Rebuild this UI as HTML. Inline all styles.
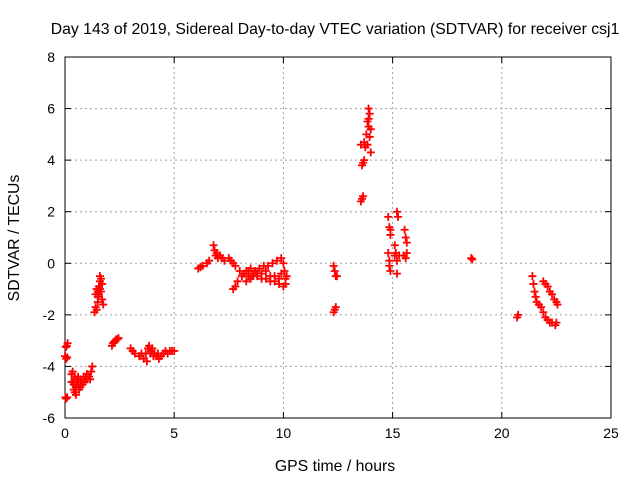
<!DOCTYPE html>
<html><head><meta charset="utf-8"><style>
body{margin:0;background:#fff}
svg text{font-family:"Liberation Sans",sans-serif;font-size:14px;fill:#000}
svg text.big{font-size:15.8px}
</style></head><body>
<svg id="chart" width="640" height="480" xmlns="http://www.w3.org/2000/svg">
<text class="big" x="335" y="34" text-anchor="middle">Day 143 of 2019, Sidereal Day-to-day VTEC variation (SDTVAR) for receiver csj1</text>
<g id="grid"></g>
<g id="axes"></g>
<g id="points"></g>
<text class="big" x="335" y="471" text-anchor="middle">GPS time / hours</text>
<text class="big" transform="translate(19,238) rotate(-90)" text-anchor="middle">SDTVAR / TECUs</text>
</svg>
<script>
const xTicks=[0,5,10,15,20,25];
const yTicks=[-6,-4,-2,0,2,4,6,8];
const hours=[0.02,0.05,0.1,0.0,0.05,0.1,0.08,0.12,0.04,
0.3,0.35,0.4,0.45,0.5,0.55,0.6,0.7,0.8,0.9,1.0,1.1,1.2,1.25,0.35,0.45,0.6,0.7,0.85,1.0,1.15,0.5,0.65,0.4,0.55,0.75,0.95,0.3,
1.35,1.4,1.4,1.45,1.5,1.55,1.6,1.6,1.65,1.7,1.75,1.7,1.5,1.45,1.55,1.65,1.6,1.5,
2.15,2.2,2.3,2.4,2.45,2.25,2.35,
3.0,3.1,3.2,3.4,3.5,3.6,3.7,3.8,3.85,3.9,4.0,4.1,4.2,4.3,4.4,4.5,4.6,4.7,4.8,4.9,5.0,3.75,4.05,3.95,4.25,
6.1,6.3,6.5,6.6,6.2,
6.8,6.85,6.9,7.0,7.1,7.3,7.5,7.6,7.7,7.8,8.0,8.2,8.4,8.6,8.8,9.0,9.2,9.4,9.6,9.8,10.0,10.1,
7.7,7.8,7.9,8.1,8.3,8.5,8.7,8.9,9.1,9.3,9.5,9.7,9.9,10.0,10.05,10.15,9.9,8.5,8.3,
8.4,8.6,8.8,9.0,9.2,9.4,9.6,9.8,10.1,6.95,7.2,
12.3,12.35,12.4,12.45,12.3,12.35,12.4,
13.55,13.6,13.65,13.6,13.65,13.7,13.55,13.7,13.75,13.8,13.85,13.9,13.95,13.9,13.95,14.0,13.85,14.0,13.9,
14.8,14.85,14.9,14.8,14.85,14.9,14.85,15.2,15.25,15.1,15.1,15.2,15.2,15.3,15.55,15.6,15.65,15.5,15.6,15.65,14.9,15.15,
18.6,18.65,20.7,20.75,
21.4,21.45,21.5,21.55,21.6,21.7,21.8,21.9,22.0,22.1,22.2,22.3,22.45,22.5,21.9,22.0,22.1,22.2,22.3,22.4,22.5,22.55];
const sdtvar=[-5.2,-5.25,-5.2,-3.6,-3.7,-3.65,-3.2,-3.1,-3.25,
-4.3,-4.6,-4.9,-5.0,-4.8,-4.5,-4.7,-4.8,-4.7,-4.6,-4.5,-4.4,-4.2,-4.0,-4.2,-4.4,-4.4,-4.5,-4.4,-4.3,-4.5,-5.1,-4.9,-4.7,-4.6,-4.6,-4.4,-4.6,
-1.9,-1.7,-1.2,-1.0,-1.3,-0.9,-0.7,-0.5,-1.1,-1.4,-1.6,-0.8,-1.5,-1.8,-1.2,-0.6,-1.0,-1.1,
-3.2,-3.1,-3.0,-2.95,-2.9,-3.05,-2.95,
-3.3,-3.4,-3.5,-3.6,-3.5,-3.7,-3.5,-3.3,-3.2,-3.5,-3.3,-3.5,-3.6,-3.7,-3.6,-3.5,-3.4,-3.5,-3.4,-3.4,-3.4,-3.8,-3.6,-3.4,-3.5,
-0.2,-0.1,0.0,0.1,-0.15,
0.7,0.5,0.3,0.2,0.3,0.1,0.2,0.1,0.0,-0.1,-0.3,-0.4,-0.3,-0.5,-0.5,-0.6,-0.6,-0.7,-0.7,-0.8,-0.9,-0.6,
-1.0,-0.9,-0.7,-0.5,-0.3,-0.2,-0.3,-0.2,-0.1,-0.1,0.0,0.1,0.2,0.0,-0.3,-0.5,-0.4,-0.6,-0.7,
-0.5,-0.4,-0.4,-0.4,-0.3,-0.5,-0.5,-0.6,-0.8,0.4,0.2,
-0.1,-0.3,-0.5,-0.5,-1.9,-1.8,-1.7,
2.4,2.5,2.6,3.8,3.9,4.0,4.6,4.7,4.5,5.0,5.5,6.0,5.8,5.3,4.9,4.3,4.6,5.2,5.6,
1.8,1.4,1.1,0.4,0.1,-0.3,-0.1,2.0,1.8,0.7,0.3,0.1,-0.4,0.3,1.3,1.0,0.8,0.3,0.2,0.4,1.3,0.4,
0.2,0.15,-2.1,-2.0,
-0.5,-0.8,-1.1,-1.3,-1.5,-1.6,-1.7,-1.9,-2.1,-2.2,-2.3,-2.3,-2.4,-2.3,-0.7,-0.8,-0.9,-1.1,-1.2,-1.4,-1.5,-1.6];
const L=65,R=611,T=57,B=418,xmin=0,xmax=25,ymin=-6,ymax=8;
const sx=v=>L+(v-xmin)/(xmax-xmin)*(R-L);
const sy=v=>B-(v-ymin)/(ymax-ymin)*(B-T);
const NS="http://www.w3.org/2000/svg";
function mk(tag,attrs,parent){const e=document.createElementNS(NS,tag);for(const k in attrs)e.setAttribute(k,attrs[k]);parent.appendChild(e);return e;}
const grid=document.getElementById('grid'),axes=document.getElementById('axes'),pts=document.getElementById('points');
xTicks.forEach(t=>{const x=sx(t);
 if(t>xmin&&t<xmax){const g=mk('line',{x1:x,x2:x,y1:T,y2:B,stroke:'#a0a0a0','stroke-dasharray':'2,3'},grid);}
 mk('line',{x1:x,x2:x,y1:B,y2:B-6,stroke:'#000'},axes);mk('line',{x1:x,x2:x,y1:T,y2:T+6,stroke:'#000'},axes);
 const tx=mk('text',{x:x,y:B+20,'text-anchor':'middle'},axes);tx.textContent=t;
 });
yTicks.forEach(t=>{const y=sy(t);
 if(t>ymin&&t<ymax){const g=mk('line',{x1:L,x2:R,y1:y,y2:y,stroke:'#a0a0a0','stroke-dasharray':'2,3'},grid);}
 mk('line',{x1:L,x2:L+6,y1:y,y2:y,stroke:'#000'},axes);mk('line',{x1:R,x2:R-6,y1:y,y2:y,stroke:'#000'},axes);
 const tx=mk('text',{x:L-10,y:y+5,'text-anchor':'end'},axes);tx.textContent=t;
 });
const fr=mk('rect',{x:L,y:T,width:R-L,height:B-T,fill:'none',stroke:'#000'},axes);


hours.forEach((h,i)=>{const x=sx(h),y=sy(sdtvar[i]);
 const p=mk('path',{d:`M${x-4},${y}H${x+4}M${x},${y-4}V${y+4}`,stroke:'#f00','stroke-width':1.8,fill:'none'},pts);
 
 });
</script>
</body></html>
